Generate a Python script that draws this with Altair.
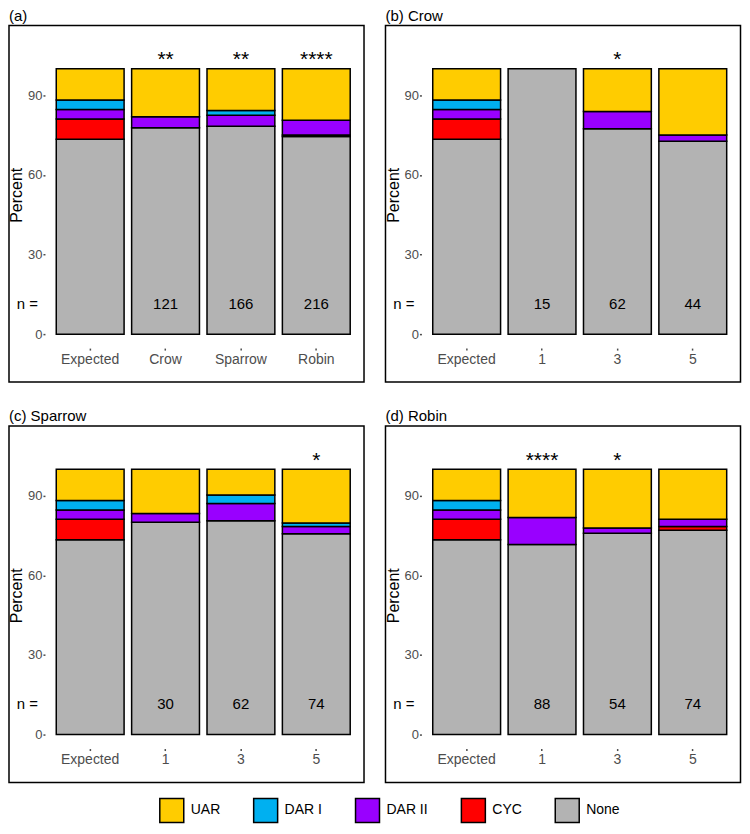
import altair as alt
import pandas as pd

classes = ["None", "CYC", "DAR II", "DAR I", "UAR"]
legend_order = ["UAR", "DAR I", "DAR II", "CYC", "None"]
colors = ["#FFCC00", "#00B0F0", "#9900FF", "#FF0000", "#B3B3B3"]

# percent values per bar, in order None, CYC, DAR II, DAR I, UAR
expected = [73.4, 7.7, 3.5, 3.6, 11.8]

a_cats = ["Expected", "Crow", "Sparrow", "Robin"]
a_vals = [expected, [77.8, 0, 4.1, 0, 18.1], [78.3, 0, 4.2, 1.8, 15.7], [74.5, 0.5, 5.6, 0, 19.4]]
a_n = ["", "121", "166", "216"]
a_stars = ["", "**", "**", "****"]

b_cats = ["Expected", "1", "3", "5"]
b_vals = [expected, [100, 0, 0, 0, 0], [77.4, 0, 6.5, 0, 16.1], [72.7, 0, 2.3, 0, 25.0]]
b_n = ["", "15", "62", "44"]
b_stars = ["", "", "*", ""]

c_cats = ["Expected", "1", "3", "5"]
c_vals = [expected, [80.0, 0, 3.3, 0, 16.7], [80.6, 0, 6.5, 3.2, 9.7], [75.7, 0, 2.7, 1.35, 20.25]]
c_n = ["", "30", "62", "74"]
c_stars = ["", "", "", "*"]

d_cats = ["Expected", "1", "3", "5"]
d_vals = [expected, [71.6, 0, 10.2, 0, 18.2], [75.9, 0, 1.9, 0, 22.2], [77.0, 1.4, 2.7, 0, 18.9]]
d_n = ["", "88", "54", "74"]
d_stars = ["", "****", "*", ""]

titles = ["(a)", "(b) Crow", "(c) Sparrow", "(d) Robin"]

W, H = 317, 307
FL, FR, FT, FB = 36, 2.5, 16, 34
FONT = "Liberation Sans"


def panel(title, cats, vals, ns, stars):
    rows = []
    for cat, v in zip(cats, vals):
        for i, cl in enumerate(classes):
            if v[i] > 0:
                rows.append({"cat": cat, "cls": cl, "ord": i, "pct": v[i]})
    df = pd.DataFrame(rows)
    lab = pd.DataFrame({"cat": cats, "n": ns, "star": stars})

    xenc = alt.X("cat:N", sort=cats, title=None,
                 scale=alt.Scale(paddingInner=0.1, paddingOuter=0.15),
                 axis=alt.Axis(labelAngle=0, labelFontSize=14, labelColor="#4D4D4D",
                               tickSize=2, tickWidth=1.5, tickColor="#4D4D4D",
                               domain=False, labelPadding=2, grid=False))
    yscale = alt.Scale(domain=[-5.25, 110.25], nice=False, zero=False)

    bars = alt.Chart(df).mark_bar(stroke="black", strokeWidth=1.5).encode(
        x=xenc,
        y=alt.Y("pct:Q", stack="zero", scale=yscale, title="Percent",
                axis=alt.Axis(values=[0, 30, 60, 90], labelFontSize=13, labelColor="#4D4D4D",
                              tickSize=2, tickWidth=1.5, tickColor="#4D4D4D", domain=False,
                              grid=False, labelPadding=1, titleFontSize=16,
                              titleFontWeight="normal", titleColor="black", titlePadding=3)),
        color=alt.Color("cls:N", scale=alt.Scale(domain=legend_order, range=colors),
                        legend=alt.Legend(title=None, orient="none", direction="horizontal",
                                          legendX=114, legendY=757, symbolType="square",
                                          symbolSize=576, symbolStrokeColor="black",
                                          symbolStrokeWidth=1.5, symbolOpacity=1,
                                          labelFontSize=14, labelColor="black",
                                          columnPadding=30, labelOffset=6, padding=0)),
        order=alt.Order("ord:Q", sort="ascending"),
    )

    ntext = alt.Chart(lab).mark_text(fontSize=15, baseline="middle", color="black").encode(
        x=alt.X("cat:N", sort=cats), y=alt.datum(11.5), text="n:N")
    stext = alt.Chart(lab).mark_text(fontSize=21, baseline="alphabetic", color="black").encode(
        x=alt.X("cat:N", sort=cats), y=alt.datum(101), text="star:N")
    nlab = alt.Chart(pd.DataFrame({"t": ["n ="]})).mark_text(
        fontSize=15, align="right", baseline="middle", color="black").encode(
        x=alt.value(-7), y=alt.datum(11.5), text="t:N")
    frame = alt.Chart(pd.DataFrame({"t": [0]})).mark_rect(
        fillOpacity=0, stroke="black", strokeWidth=1.5, clip=False).encode(
        x=alt.value(-FL), x2=alt.value(W + FR), y=alt.value(-FT), y2=alt.value(H + FB))
    ttl = alt.Chart(pd.DataFrame({"t": [title]})).mark_text(
        fontSize=15, align="left", baseline="alphabetic", color="black").encode(
        x=alt.value(-FL), y=alt.value(-FT - 5), text="t:N")

    return alt.layer(frame, bars, ntext, stext, nlab, ttl).properties(width=W, height=H)


pa = panel(titles[0], a_cats, a_vals, a_n, a_stars)
pb = panel(titles[1], b_cats, b_vals, b_n, b_stars)
pc = panel(titles[2], c_cats, c_vals, c_n, c_stars)
pd_ = panel(titles[3], d_cats, d_vals, d_n, d_stars)

chart = alt.vconcat(
    alt.hconcat(pa, pb, spacing=19).resolve_scale(x="independent", y="independent", color="shared"),
    alt.hconcat(pc, pd_, spacing=19).resolve_scale(x="independent", y="independent", color="shared"),
    spacing=26,
).resolve_scale(x="independent", y="independent", color="shared").properties(
    padding=0
).configure(font=FONT).configure_view(stroke="transparent", strokeWidth=0)

chart.save("out.html", embed_options={"renderer": "svg", "actions": False})
